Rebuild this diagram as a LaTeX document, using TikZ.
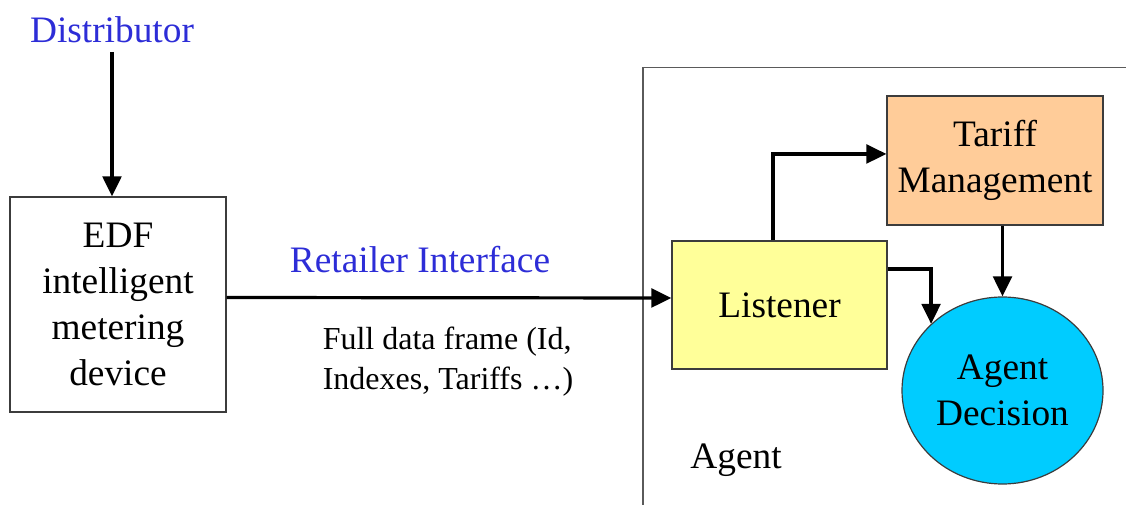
\documentclass[tikz,border=0pt]{standalone}
\usepackage{fontspec}
\setmainfont{Liberation Serif}
\usetikzlibrary{arrows.meta,shapes.geometric}

\definecolor{lblblue}{RGB}{45,45,215}
\definecolor{listenfill}{RGB}{255,255,153}
\definecolor{tarifffill}{RGB}{255,204,153}
\definecolor{decisionfill}{RGB}{0,204,255}

\begin{document}
\begin{tikzpicture}[x=0.75pt,y=0.75pt,yscale=-1,xscale=1,
  box/.style={draw={rgb,255:red,60;green,60;blue,60},line width=0.9pt,align=center,font=\fontsize{28}{34.5}\selectfont},
  lbl/.style={inner sep=0.75pt,text=lblblue,font=\fontsize{28}{34}\selectfont},
  arr/.style={line width=2.4pt,-{Triangle[length=15pt,width=14pt]}}]
\useasboundingbox (0,0) rectangle (1126,505);

%Shape: Agent frame
\draw [color={rgb,255:red,90;green,90;blue,90},line width=0.9pt] (643,505) -- (643,67.5) -- (1126,67.5) ;

%Shape: Rectangle
\node [box,minimum width=162pt,minimum height=161.25pt] (edf) at (118,304.5) {EDF\\intelligent\\metering\\device};
%Shape: Rectangle
\node [box,fill=listenfill,minimum width=161.25pt,minimum height=96pt] (listener) at (779.5,305) {Listener};
%Shape: Rectangle
\node [box,fill=tarifffill,minimum width=162pt,minimum height=96.75pt] (tariff) at (995,160.5) {Tariff\\Management};
%Shape: Ellipse
\node [box,ellipse,fill=decisionfill,minimum width=150.75pt,minimum height=140.25pt,inner sep=0pt] (decision) at (1002.5,390.5) {Agent\\Decision};

% Text Node
\node [lbl] (distributor) at (112,30) {Distributor};
% Text Node
\node [lbl] (retailer) at (420,260) {Retailer Interface};
% Text Node
\node [inner sep=0.75pt,align=left,font=\fontsize{24}{30}\selectfont] (frame) at (448,362) {Full data frame (Id,\\Indexes, Tariffs …)};
% Text Node
\node [inner sep=0.75pt,font=\fontsize{28}{34}\selectfont] (agent) at (736,460) {Agent};

%Straight Lines
\draw [arr] (distributor.south |- 0,52) -- (edf.north -| distributor.south) ;
\draw [arr] ([yshift=-5.25pt]edf.east) -- ([yshift=-5.25pt]listener.west) ;
\draw [arr] ([xshift=-4.9pt]listener.north) |- ([yshift=-4.9pt]tariff.west) ;
\draw [arr] (decision.north |- tariff.south) -- (decision.north) ;
\draw [arr] ([yshift=-27pt]listener.east) -| (decision.137) ;

\end{tikzpicture}
\end{document}
